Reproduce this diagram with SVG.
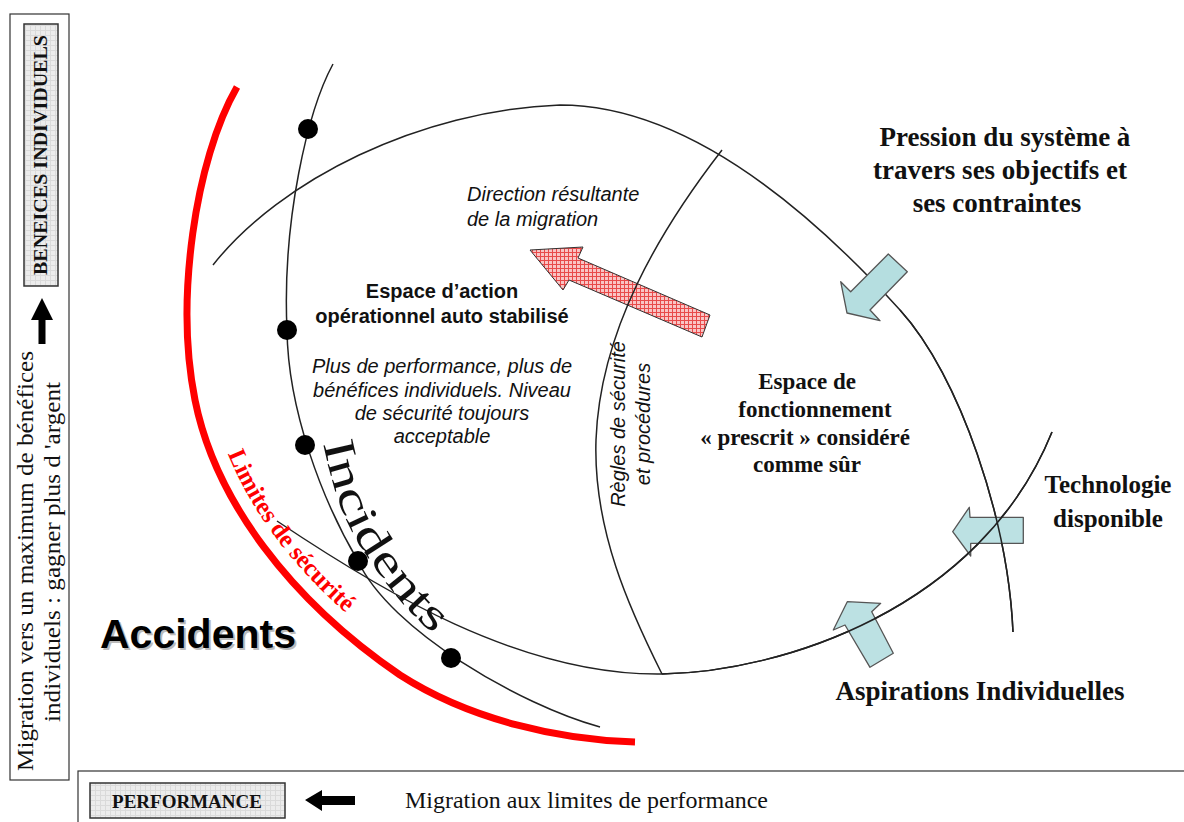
<svg xmlns="http://www.w3.org/2000/svg" width="1184" height="822" viewBox="0 0 1184 822">
<style>
.ln{fill:none;stroke:#222;stroke-width:1.5}
.red{fill:none;stroke:#ff0000;stroke-width:7}
.dot{fill:#000}
.blue{fill:#b5dee0;stroke:#555;stroke-width:1.3;stroke-linejoin:round}
.sansb{font-family:"Liberation Sans",Arial,sans-serif;font-weight:bold;font-size:20px;fill:#111}
.sansi{font-family:"Liberation Sans",Arial,sans-serif;font-style:italic;font-size:20px;fill:#111}
.serifb{font-family:"Liberation Serif","Times New Roman",serif;font-weight:bold;fill:#111}
.serif{font-family:"Liberation Serif","Times New Roman",serif;fill:#111}
.box{fill:url(#grid);stroke:#333;stroke-width:1.5}
.frame{fill:#fff;stroke:#333;stroke-width:1.2}
.blk{fill:#000}
</style>
<defs>
<pattern id="hatch" width="4" height="4" patternUnits="userSpaceOnUse">
<rect width="4" height="4" fill="#f9c4c4"/>
<path d="M0,0.5H4M0.5,0V4" stroke="#e84a4a" stroke-width="1"/>
</pattern>
<pattern id="grid" width="5" height="5" patternUnits="userSpaceOnUse">
<rect width="5" height="5" fill="#ececec"/>
<path d="M0,0.5H5M0.5,0V5" stroke="#dadada" stroke-width="1"/>
</pattern>
<path id="limPath" d="M210.7,396.3 C230.7,496.3 299.9,587.4 409.9,662.4"/>
<path id="incPath" d="M323,443 C333,490 345,525 365,553 C385,583 405,610 435,635"/>
</defs>
<rect width="1184" height="822" fill="#fff"/>

<g id="left-panel">
<rect class="frame" x="10" y="14" width="59" height="766"/>
<rect class="box" x="24" y="24" width="34" height="262"/>
<text class="serifb" font-size="19" text-anchor="middle" transform="translate(47,155) rotate(-90)" textLength="240" lengthAdjust="spacingAndGlyphs">BENEICES INDIVIDUELS</text>
<polygon class="blk" points="42,298 53,320 45.5,320 45.5,344 38.5,344 38.5,320 31,320"/>
<text class="serif" font-size="24" text-anchor="middle" transform="translate(33,561) rotate(-90)" textLength="420" lengthAdjust="spacingAndGlyphs">Migration vers un maximum de bénéfices</text>
<text class="serif" font-size="24" text-anchor="middle" transform="translate(60,552) rotate(-90)" textLength="340" lengthAdjust="spacingAndGlyphs">individuels : gagner plus d 'argent</text>
</g>

<g id="bottom-panel">
<rect class="frame" x="78" y="771" width="1120" height="60"/>
<rect class="box" x="90" y="783" width="195" height="35"/>
<text class="serifb" font-size="19" x="187" y="808" text-anchor="middle">PERFORMANCE</text>
<polygon class="blk" points="305,800 322,790 322,796 355,796 355,805 322,805 322,811"/>
<text class="serif" font-size="23" x="405" y="808" textLength="363" lengthAdjust="spacingAndGlyphs">Migration aux limites de performance</text>
</g>

<g id="migration-arrow">
<polygon points="530,250 583,247 578,258 710,315 702,337 569,280 563,290" fill="url(#hatch)" stroke="#333" stroke-width="1"/>
</g>

<g id="connectors">
<path id="limite-securite" class="red" d="M237,87 C195,160 175,300 195,400 C215,500 290,600 400,675 C470,720 560,740 635,742"/>
<path id="arc-incidents" class="ln" d="M333,64 C308,110 282,220 287,330 C288,410 322,500 358,561 C390,630 520,705 600,727"/>
<path id="arc-espace" class="ln" d="M213,265 C280,180 420,110 560,105 C680,105 800,200 900,310 C960,376 1008,520 1013,632"/>
<path id="arc-bas" class="ln" d="M277,521 C380,590 520,676 662,674 C780,672 980,610 1052,432"/>
<path id="arc-regles" class="ln" d="M722,150 C660,230 600,330 596,440 C593,530 630,610 662,674"/>
</g>

<g id="pressure-arrows">
<polygon id="arrow-pression" class="blue" points="840.7,281.7 850.7,291.7 888.3,254 907.3,271.7 870,310 880,320.7 847,313"/>
</g>
<g id="arrow-techno-g">
<polygon id="arrow-techno" class="blue" points="952.7,531.7 969.3,507.3 970,517.3 1023.3,517.3 1023.3,543.3 970.7,543.3 970.7,556" fill-opacity="0.9"/>
</g>
<g id="arrow-aspi-g">
<polygon id="arrow-aspi" class="blue" points="847.3,601.7 880.7,603.3 871.7,611.7 893.3,653.3 870,667.3 845,625 833.3,630" fill-opacity="0.9"/>
</g>
<g id="overlay-lines">
<path class="ln" d="M900,310 C960,376 1008,520 1013,632"/>
<path class="ln" d="M662,674 C780,672 980,610 1052,432"/>
</g>

<g id="incident-dots">
<circle class="dot" cx="308" cy="129" r="10"/>
<circle class="dot" cx="287" cy="330" r="10"/>
<circle class="dot" cx="305" cy="445" r="10"/>
<circle class="dot" cx="358" cy="561" r="10"/>
<circle class="dot" cx="451" cy="658" r="10"/>
</g>

<g id="label-limites">
<text font-family="'Liberation Serif','Times New Roman',serif" font-weight="bold" font-size="25" fill="#ff0000" text-anchor="middle"><textPath href="#limPath" startOffset="160" textLength="200" lengthAdjust="spacingAndGlyphs">Limites de sécurité</textPath></text>
</g>
<g id="label-incidents">
<text class="serif" font-size="45"><textPath href="#incPath" textLength="225" lengthAdjust="spacingAndGlyphs">Incidents</textPath></text>
</g>
<g id="label-accidents">
<text x="102" y="650" font-family="'Liberation Sans',Arial,sans-serif" font-weight="bold" font-size="41" fill="#bbb">Accidents</text>
<text x="100" y="648" font-family="'Liberation Sans',Arial,sans-serif" font-weight="bold" font-size="41" fill="#000">Accidents</text>
</g>

<g id="label-direction">
<text class="sansi" x="467" y="201">Direction résultante</text>
<text class="sansi" x="467" y="226">de la migration</text>
</g>
<g id="label-espace-action">
<text class="sansb" x="442" y="298" text-anchor="middle">Espace d’action</text>
<text class="sansb" x="442" y="323" text-anchor="middle">opérationnel auto stabilisé</text>
</g>
<g id="label-plus">
<text class="sansi" x="442" y="373" text-anchor="middle">Plus de performance, plus de</text>
<text class="sansi" x="442" y="397" text-anchor="middle">bénéfices individuels. Niveau</text>
<text class="sansi" x="442" y="420" text-anchor="middle">de sécurité toujours</text>
<text class="sansi" x="442" y="443" text-anchor="middle">acceptable</text>
</g>
<g id="label-regles">
<text class="sansi" text-anchor="middle" transform="translate(625,424) rotate(-90)">Règles de sécurité</text>
<text class="sansi" text-anchor="middle" transform="translate(650,424) rotate(-90)">et procédures</text>
</g>
<g id="label-espace-fonct">
<text class="serifb" font-size="23" x="807" y="389" text-anchor="middle">Espace de</text>
<text class="serifb" font-size="23" x="815" y="417" text-anchor="middle">fonctionnement</text>
<text class="serifb" font-size="23" x="805" y="445" text-anchor="middle">« prescrit  » considéré</text>
<text class="serifb" font-size="23" x="807" y="472" text-anchor="middle">comme sûr</text>
</g>
<g id="label-pression">
<text class="serifb" font-size="27" x="1005" y="146" text-anchor="middle">Pression du système à</text>
<text class="serifb" font-size="27" x="1000" y="179" text-anchor="middle">travers ses objectifs et</text>
<text class="serifb" font-size="27" x="997" y="212" text-anchor="middle">ses contraintes</text>
</g>
<g id="label-techno">
<text class="serifb" font-size="25" x="1108" y="493" text-anchor="middle">Technologie</text>
<text class="serifb" font-size="25" x="1108" y="527" text-anchor="middle">disponible</text>
</g>
<g id="label-aspi">
<text class="serifb" font-size="27" x="980" y="700" text-anchor="middle">Aspirations Individuelles</text>
</g>
</svg>
